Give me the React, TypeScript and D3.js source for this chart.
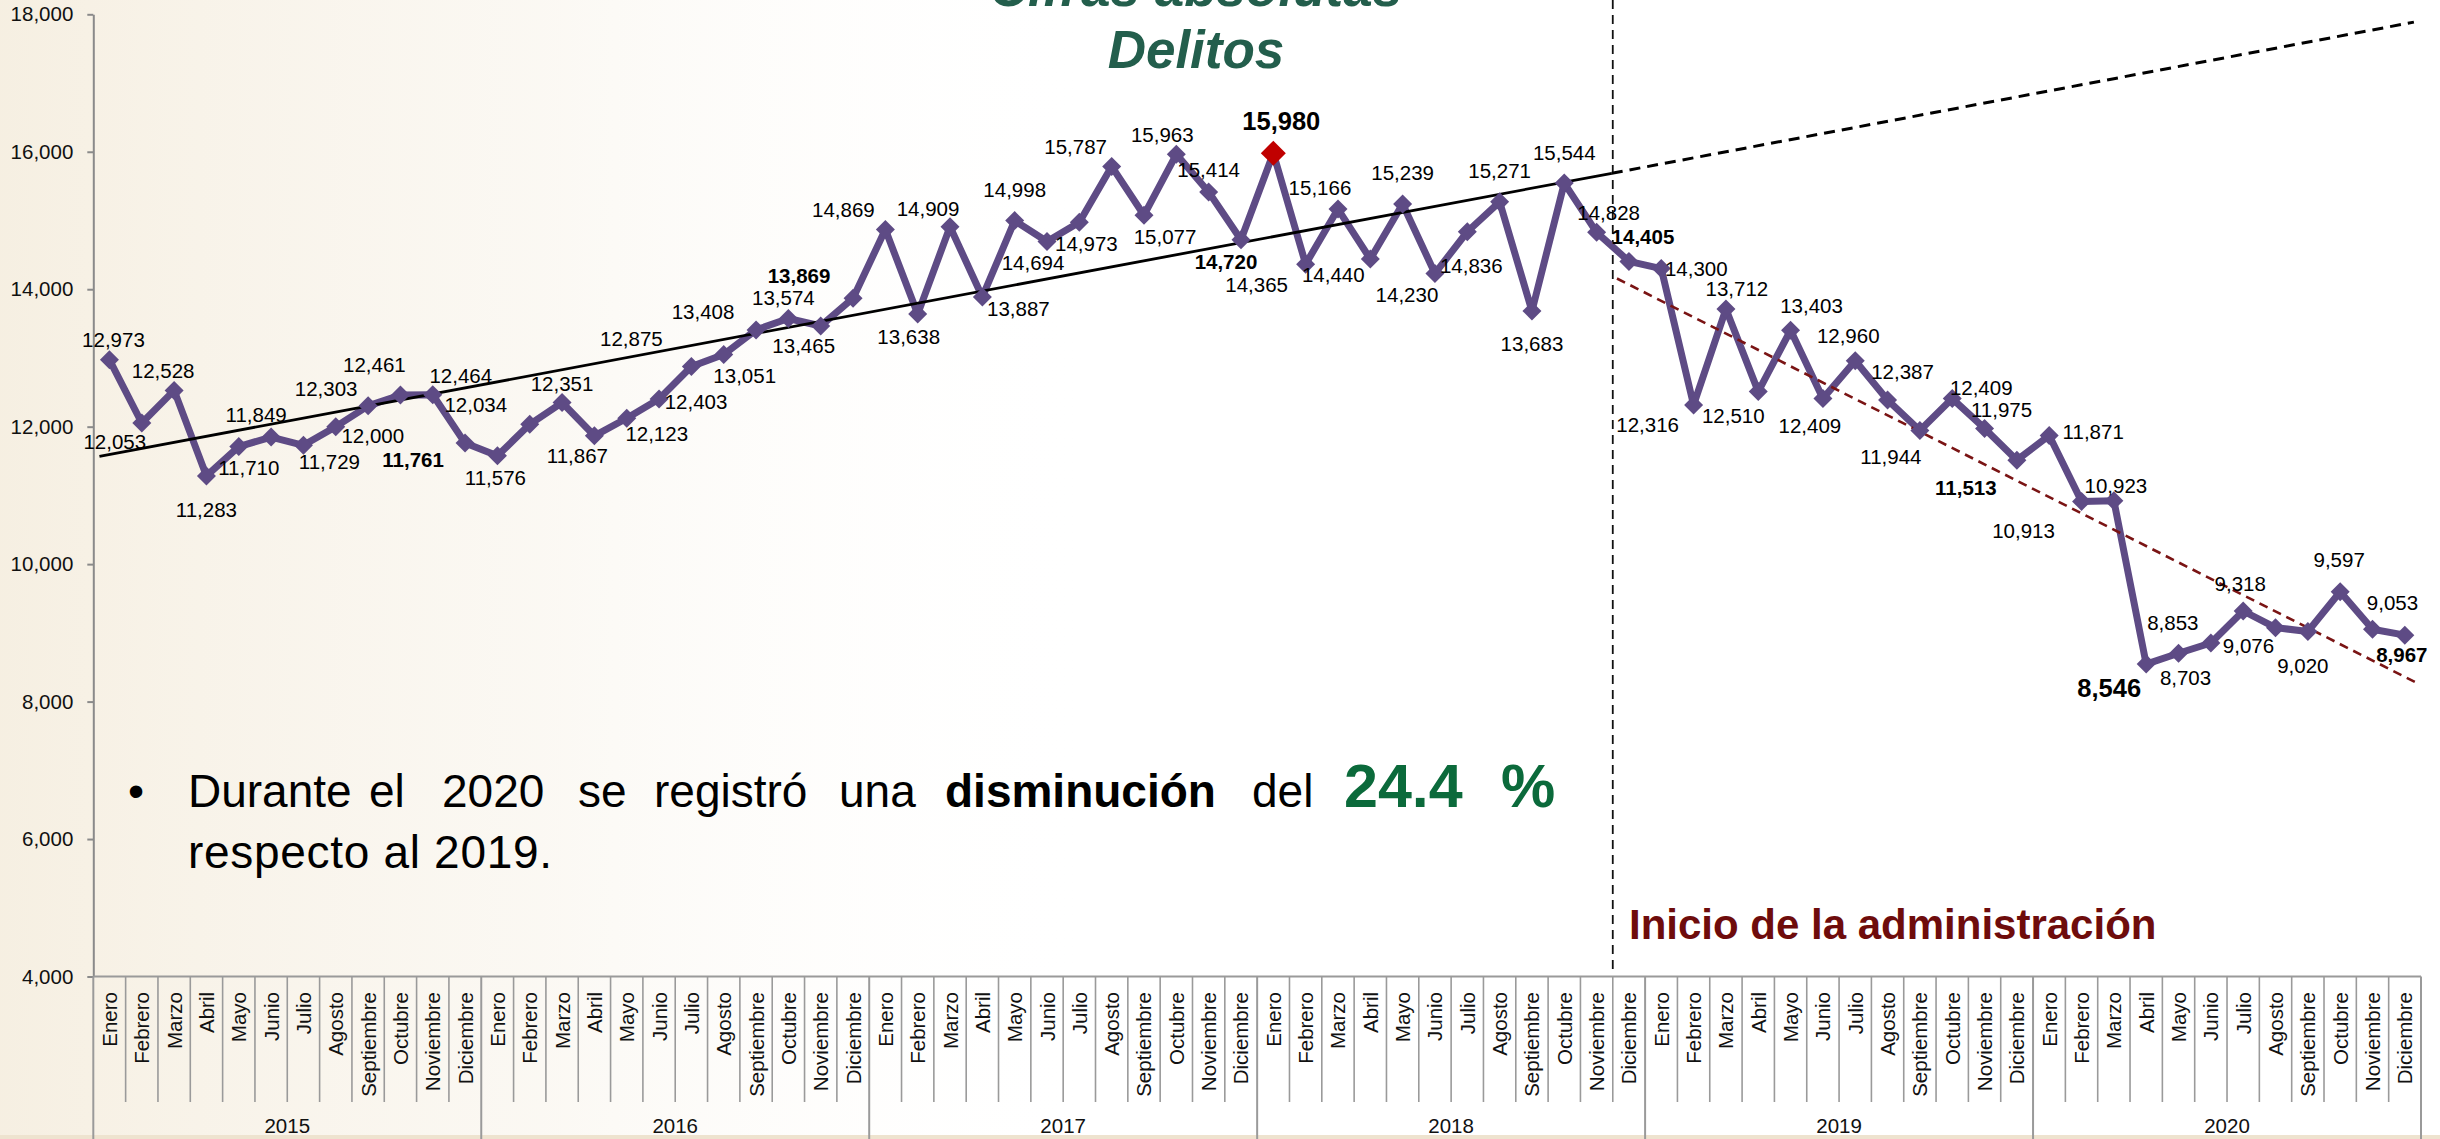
import { useEffect, useRef } from "react";
import * as d3 from "d3";

const W = 2440;
const H = 1139;

const months = ["Enero", "Febrero", "Marzo", "Abril", "Mayo", "Junio", "Julio", "Agosto", "Septiembre", "Octubre", "Noviembre", "Diciembre"];
const years = ["2015", "2016", "2017", "2018", "2019", "2020"];

const delitos2015 = [12973, 12053, 12528, 11283, 11710, 11849, 11729, 12000, 12303, 12461, 12464, 11761];
const delitos2016 = [11576, 12034, 12351, 11867, 12123, 12403, 12875, 13051, 13408, 13574, 13465, 13869];
const delitos2017 = [14869, 13638, 14909, 13887, 14998, 14694, 14973, 15787, 15077, 15963, 15414, 14720];
const delitos2018 = [15980, 14365, 15166, 14440, 15239, 14230, 14836, 15271, 13683, 15544, 14828, 14405];
const delitos2019 = [14300, 12316, 13712, 12510, 13403, 12409, 12960, 12387, 11944, 12409, 11975, 11513];
const delitos2020 = [11871, 10913, 10923, 8546, 8703, 8853, 9318, 9076, 9020, 9597, 9053, 8967];

const delitos = [...delitos2015, ...delitos2016, ...delitos2017, ...delitos2018, ...delitos2019, ...delitos2020];

const yTicks = [4000, 6000, 8000, 10000, 12000, 14000, 16000, 18000];

// month indexes whose label is bold; the two big ones are the max and the min
const boldLabels = [11, 23, 35, 47, 59, 71];
const bigLabels = [36, 63];
const peakIndex = 36;

// trend lines (month index, value)
const trendBefore = [{ i: -0.31, v: 11569 }, { i: 46.47, v: 15687 }];
const trendProjection = [{ i: 46.47, v: 15687 }, { i: 71.28, v: 17886 }];
const trendAfter = [{ i: 46.63, v: 14156 }, { i: 71.45, v: 8253 }];
const adminStart = 46.5;

// label placement (dx, dy of label centre from its point), px
const labelOffsets: [number, number][] = [
  [4, -20], [-27, 19], [-11, -20], [0, 34], [10, 21], [-15, -22], [26, 16], [37, 9], [-42, -17], [-26, -30], [28, -19], [-52, 17],
  [-2, 22], [-54, -20], [0, -19], [-17, 20], [30, 15], [37, 3], [-60, -28], [21, 21], [-53, -18], [-5, -21], [-17, 20], [-54, -23],
  [-42, -20], [-9, 23], [-22, -18], [36, 12], [0, -31], [-14, 21], [7, 21], [-36, -20], [21, 21], [-14, -20], [0, -22], [-15, 22],
  [8, -32], [-49, 20], [-18, -21], [-37, 16], [0, -31], [-28, 21], [4, 34], [0, -31], [0, 33], [0, -30], [12, -20], [14, -25],
  [35, 0], [-46, 20], [11, -20], [-25, 24], [21, -25], [-13, 27], [-7, -25], [15, -28], [-29, 26], [29, -11], [17, -19], [-51, 27],
  [44, -4], [-58, 29], [2, -15], [-37, 24], [7, 24], [-38, -20], [-3, -27], [-27, 18], [-5, 34], [-1, -32], [20, -27], [-3, 19]
];

const FONT = "'Liberation Sans', Arial, Helvetica, sans-serif";

export default function App() {
  const ref = useRef<SVGSVGElement | null>(null);

  useEffect(() => {
    const svg = d3.select(ref.current);
    svg.selectAll("*").remove();
    svg.attr("viewBox", `0 0 ${W} ${H}`);

    const m = { l: 93.3, r: 2421, t: 14.3, b: 976.5 };
    const x = d3.scaleLinear().domain([-0.5, 71.5]).range([m.l, m.r]);
    const y = d3.scaleLinear().domain([4000, 18000]).range([m.b, m.t]);

    const defs = svg.append("defs");
    const wash = defs.append("linearGradient").attr("id", "wash")
      .attr("x1", "0%").attr("y1", "0%").attr("x2", "100%").attr("y2", "0%");
    wash.append("stop").attr("offset", "0%").attr("stop-color", "#f3ead8").attr("stop-opacity", 0.75);
    wash.append("stop").attr("offset", "22%").attr("stop-color", "#f6f0e4").attr("stop-opacity", 0.45);
    wash.append("stop").attr("offset", "45%").attr("stop-color", "#ffffff").attr("stop-opacity", 0);

    svg.append("rect").attr("width", W).attr("height", H).attr("fill", "#ffffff");
    svg.append("rect").attr("width", W).attr("height", H).attr("fill", "url(#wash)");
    svg.append("rect").attr("x", 0).attr("y", 1135).attr("width", W).attr("height", 4).attr("fill", "#eee3cf");

    // title, cut off at the top as in the slide
    svg.append("text")
      .attr("x", 1196).attr("y", 6)
      .attr("text-anchor", "middle")
      .attr("font-family", FONT).attr("font-size", 53).attr("font-weight", "bold").attr("font-style", "italic")
      .attr("fill", "#235e4c")
      .text("Cifras absolutas");
    svg.append("text")
      .attr("x", 1196).attr("y", 68)
      .attr("text-anchor", "middle")
      .attr("font-family", FONT).attr("font-size", 53).attr("font-weight", "bold").attr("font-style", "italic")
      .attr("fill", "#235e4c")
      .text("Delitos");

    // y axis
    const ay = d3.axisLeft(y).tickValues(yTicks).tickSize(6).tickSizeOuter(0).tickPadding(14)
      .tickFormat(d => d3.format(",")(d as number));
    svg.append("g")
      .attr("transform", `translate(${m.l},0)`)
      .call(ay as any)
      .call((g: d3.Selection<SVGGElement, unknown, null, undefined>) =>
        g.selectAll("path,line").attr("stroke", "#8a8a8a").attr("stroke-width", 2)
      )
      .call((g: d3.Selection<SVGGElement, unknown, null, undefined>) =>
        g.selectAll("text").attr("fill", "#111").attr("font-size", 20.5).attr("font-family", FONT)
      );

    // x axis: baseline, month separators, year separators
    const axG = svg.append("g").attr("stroke", "#9a9a9a");
    axG.append("line")
      .attr("x1", m.l).attr("x2", m.r).attr("y1", m.b).attr("y2", m.b)
      .attr("stroke-width", 2.2);
    for (let k = 0; k <= 72; k++) {
      const yearEdge = k % 12 === 0;
      axG.append("line")
        .attr("x1", x(k - 0.5)).attr("x2", x(k - 0.5))
        .attr("y1", m.b).attr("y2", yearEdge ? H : 1102)
        .attr("stroke-width", yearEdge ? 2 : 1.6);
    }

    const monthG = svg.append("g")
      .attr("font-family", FONT).attr("font-size", 20.5).attr("fill", "#111");
    delitos.forEach((_, i) => {
      monthG.append("text")
        .attr("transform", `translate(${x(i) + 7.5},992) rotate(-90)`)
        .attr("text-anchor", "end")
        .text(months[i % 12]);
    });

    years.forEach((yr, k) => {
      svg.append("text")
        .attr("x", x(k * 12 + 5.5)).attr("y", 1133)
        .attr("text-anchor", "middle")
        .attr("font-family", FONT).attr("font-size", 20.5).attr("fill", "#111")
        .text(yr);
    });

    // administration start
    svg.append("line")
      .attr("x1", x(adminStart)).attr("x2", x(adminStart))
      .attr("y1", 0).attr("y2", m.b - 4)
      .attr("stroke", "#111").attr("stroke-width", 1.8)
      .attr("stroke-dasharray", "9 6");

    // series
    const line = d3.line<number>()
      .x((_, i) => x(i))
      .y(d => y(d));
    svg.append("path")
      .datum(delitos)
      .attr("d", line)
      .attr("fill", "none")
      .attr("stroke", "#5e4b85")
      .attr("stroke-width", 7)
      .attr("stroke-linejoin", "round");

    // trend lines
    const tl = d3.line<{ i: number; v: number }>().x(d => x(d.i)).y(d => y(d.v));
    svg.append("path").datum(trendBefore).attr("d", tl)
      .attr("fill", "none").attr("stroke", "#000").attr("stroke-width", 2.8);
    svg.append("path").datum(trendProjection).attr("d", tl)
      .attr("fill", "none").attr("stroke", "#000").attr("stroke-width", 3)
      .attr("stroke-dasharray", "11 7");
    svg.append("path").datum(trendAfter).attr("d", tl)
      .attr("fill", "none").attr("stroke", "#7a1414").attr("stroke-width", 2.6)
      .attr("stroke-dasharray", "9 6");

    // markers
    const diamond = (r: number) => `M0,${-r}L${r},0L0,${r}L${-r},0Z`;
    svg.append("g").selectAll("path")
      .data(delitos)
      .enter()
      .append("path")
      .attr("transform", (d, i) => `translate(${x(i)},${y(d)})`)
      .attr("d", (_, i) => diamond(i === peakIndex ? 12.5 : 9.5))
      .attr("fill", (_, i) => (i === peakIndex ? "#c00000" : "#5e4b85"));

    // data labels
    const labG = svg.append("g").attr("font-family", FONT).attr("fill", "#000").attr("text-anchor", "middle");
    delitos.forEach((v, i) => {
      const big = bigLabels.includes(i);
      const bold = big || boldLabels.includes(i);
      const fs = big ? 25.5 : 20.5;
      const [dx, dy] = labelOffsets[i];
      labG.append("text")
        .attr("x", x(i) + dx)
        .attr("y", y(v) + dy + fs * 0.36)
        .attr("font-size", fs)
        .attr("font-weight", bold ? "bold" : "normal")
        .text(d3.format(",")(v));
    });

    // annotation text
    const note = svg.append("g").attr("font-family", FONT).attr("font-size", 46).attr("fill", "#000");
    note.append("text").attr("x", 128).attr("y", 807).text("\u2022");
    const words: [string, number, string?][] = [
      ["Durante", 188], ["el", 369], ["2020", 442], ["se", 578], ["registró", 654], ["una", 839],
      ["disminución", 945, "b"], ["del", 1252]
    ];
    words.forEach(([w, wx, b]) => {
      note.append("text").attr("x", wx).attr("y", 807)
        .attr("font-weight", b ? "bold" : "normal")
        .text(w);
    });
    note.append("text").attr("x", 1344).attr("y", 807)
      .attr("font-size", 61).attr("font-weight", "bold").attr("fill", "#0b6a3b").text("24.4");
    note.append("text").attr("x", 1501).attr("y", 807)
      .attr("font-size", 61).attr("font-weight", "bold").attr("fill", "#0b6a3b").text("%");
    note.append("text").attr("x", 188).attr("y", 868).attr("textLength", 364).text("respecto al 2019.");

    svg.append("text")
      .attr("x", 1629).attr("y", 939)
      .attr("font-family", FONT).attr("font-size", 42).attr("font-weight", "bold")
      .attr("fill", "#6e0c0c")
      .text("Inicio de la administración");
  }, []);

  return (
    <svg
      ref={ref}
      width={W}
      height={H}
      style={{ position: "absolute", left: 0, top: 0, display: "block" }}
    />
  );
}
